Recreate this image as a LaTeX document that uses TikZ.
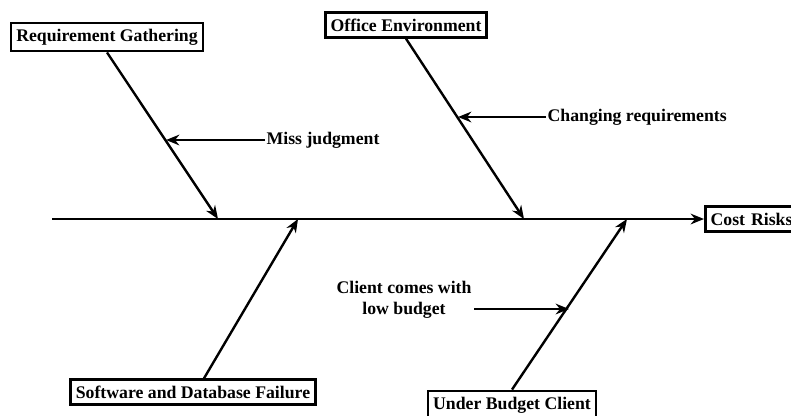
\documentclass[tikz,border=0pt]{standalone}
\usepackage{fontspec}
\setmainfont{Liberation Serif}
\usetikzlibrary{arrows.meta}
\begin{document}
\begin{tikzpicture}[x=0.75pt,y=-0.75pt,
  box/.style={draw,line width=2pt,font=\bfseries\fontsize{13.3}{15}\selectfont,inner xsep=4pt,inner ysep=4.5pt,fill=white},
  lbl/.style={font=\bfseries\fontsize{13.3}{16}\selectfont,inner sep=1pt,align=center},
  arr/.style={line width=1.8pt,-{Stealth[length=10pt,width=8pt]}}]
\clip (0,0) rectangle (791,415);
\fill[white] (0,0) rectangle (791,415);
% spine
\coordinate (s0) at (52,219);
\node[box,anchor=west,text width=90pt] (cost) at (704,219) {Cost Risks};
\draw[arr] (s0) -- (cost.west);
% top branches
\node[box] (rg) at (107,37) {Requirement Gathering};
\coordinate (rgE) at (218,219);
\draw[arr] (rg.south) -- (rgE);
\node[box] (oe) at (406,25) {Office Environment};
\coordinate (oeE) at (524,219);
\draw[arr] (oe.south) -- (oeE);
% bottom branches
\node[box] (sdf) at (193,392) {Software and Database Failure};
\coordinate (sdfE) at (298,219);
\draw[arr] (sdf.north -| 204,0) -- (sdfE);
\node[box] (ubc) at (512,405) {Under Budget Client};
\coordinate (ubcE) at (627,219);
\draw[arr] (ubc.north) -- (ubcE);
% sub causes
\node[lbl,anchor=west] (mj) at (265,140) {Miss judgment};
\coordinate (mjE) at (166,140);
\draw[arr] (mj.west) -- (mjE);
\node[lbl,anchor=west] (cr) at (546,117) {Changing requirements};
\coordinate (crE) at (458,117);
\draw[arr] (cr.west) -- (crE);
\node[lbl] (cc) at (404,300) {Client comes with\\low budget};
\coordinate (ccS) at (474,309);
\coordinate (ccE) at (569,309);
\draw[arr] (ccS) -- (ccE);
\end{tikzpicture}
\end{document}
